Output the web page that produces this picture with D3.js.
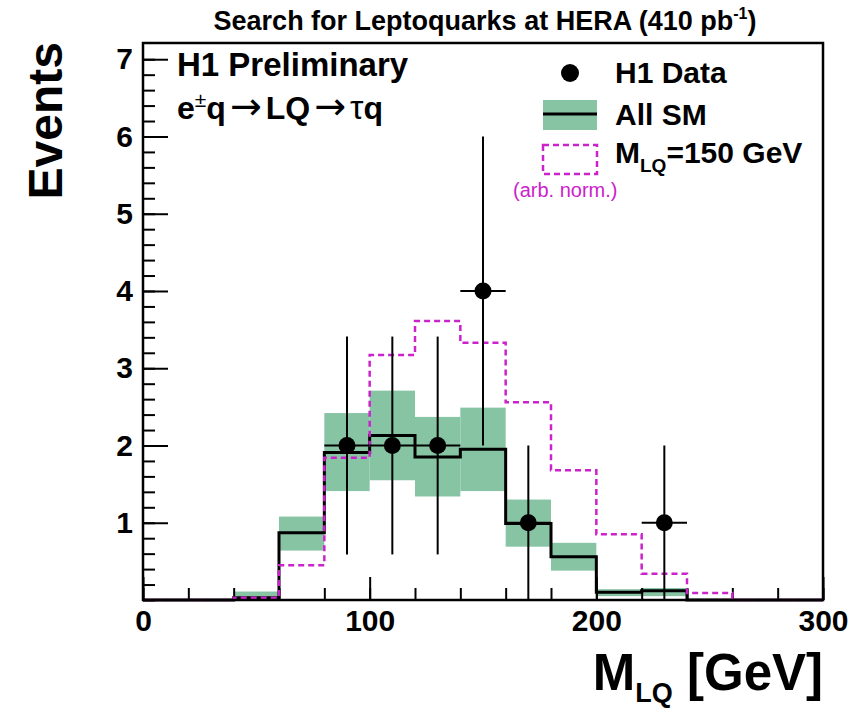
<!DOCTYPE html>
<html>
<head>
<meta charset="utf-8">
<script src="https://cdn.jsdelivr.net/npm/d3@7.9.0/dist/d3.min.js"></script>
<style>
  body { margin: 0; background: #fff; }
  svg text { font-family: "Liberation Sans", Arial, Helvetica, sans-serif; font-weight: bold; fill: #000; }
</style>
</head>
<body>
<svg id="chart" width="865" height="709"></svg>
<script>
// bins of 20 GeV, lower edges
const binLow = [0, 20, 40, 60, 80, 100, 120, 140, 160, 180, 200, 220, 240, 260, 280];
const binWidth = 20;

// all SM expectation and its error band
const smValues = [0, 0, 0.03, 0.87, 1.91, 2.13, 1.85, 1.95, 0.99, 0.56, 0.10, 0.12, 0, 0, 0];
const smUp     = [0, 0, 0.11, 1.08, 2.42, 2.71, 2.37, 2.49, 1.30, 0.74, 0.14, 0.155, 0, 0, 0];
const smDown   = [0, 0, 0.00, 0.64, 1.41, 1.55, 1.34, 1.41, 0.69, 0.38, 0.05, 0.05, 0, 0, 0];

// LQ signal, M = 150 GeV (arb. norm.)
const signal = [0, 0, 0.03, 0.45, 1.84, 3.17, 3.61, 3.33, 2.56, 1.68, 0.85, 0.34, 0.09, 0, 0];

// H1 data
const dataX   = [90, 110, 130, 150, 170, 230];
const dataN   = [2, 2, 2, 4, 1, 1];
const dataErr = [1.41, 1.41, 1.41, 2, 1, 1];

const yMajor = [1, 2, 3, 4, 5, 6, 7];
const xMajor = [0, 100, 200, 300];

const green = "#87c4a4";
const magenta = "#cc22cc";

const svg = d3.select("#chart");
const x = d3.scaleLinear().domain([0, 300]).range([143, 823]);
const y = d3.scaleLinear().domain([0, 7.21]).range([600, 43]);

// SM band
svg.append("g")
  .selectAll("rect")
  .data(binLow.map((b, i) => ({ b, lo: smDown[i], hi: smUp[i] })).filter((d) => d.hi > 0))
  .join("rect")
  .attr("x", (d) => x(d.b))
  .attr("width", (d) => x(d.b + binWidth) - x(d.b))
  .attr("y", (d) => y(d.hi))
  .attr("height", (d) => y(d.lo) - y(d.hi))
  .attr("fill", green);

function stepPoints(values) {
  let pts = binLow.map((b, i) => [b, values[i]]);
  pts.push([binLow[binLow.length - 1] + binWidth, values[values.length - 1]]);
  return pts;
}

const step = d3.line()
  .x((d) => x(d[0]))
  .y((d) => y(d[1]))
  .curve(d3.curveStepAfter);

// axes (ticks point inward)
const yAxisG = svg.append("g").attr("transform", `translate(${x(0)},0)`);
yAxisG.call(d3.axisLeft(y).tickValues(d3.range(0, 7.2, 0.2)).tickSize(-12).tickFormat(""));
yAxisG.call((g) => g.select(".domain").remove());
const yMajorG = svg.append("g").attr("transform", `translate(${x(0)},0)`);
yMajorG.call(d3.axisLeft(y).tickValues(yMajor).tickSize(-25).tickPadding(10).tickFormat(d3.format("d")));
yMajorG.select(".domain").remove();

const xAxisG = svg.append("g").attr("transform", `translate(0,${y(0)})`);
xAxisG.call(d3.axisBottom(x).tickValues(d3.range(0, 301, 20)).tickSize(-12).tickFormat(""));
xAxisG.select(".domain").remove();
const xMajorG = svg.append("g").attr("transform", `translate(0,${y(0)})`);
xMajorG.call(d3.axisBottom(x).tickValues(xMajor).tickSize(-23).tickPadding(10).tickFormat(d3.format("d")));
xMajorG.select(".domain").remove();

svg.selectAll(".tick line").attr("stroke", "#000").attr("stroke-width", 2);
svg.selectAll(".tick text").style("font-size", "30px").style("fill", "#000");

// SM histogram line
svg.append("path")
  .attr("d", step(stepPoints(smValues)))
  .attr("fill", "none")
  .attr("stroke", "#000")
  .attr("stroke-width", 3);

// signal histogram
svg.append("path")
  .attr("d", step(stepPoints(signal)))
  .attr("fill", "none")
  .attr("stroke", magenta)
  .attr("stroke-width", 2.5)
  .attr("stroke-dasharray", "6,4");

// frame
svg.append("rect")
  .attr("x", x(0)).attr("y", y(7.21))
  .attr("width", x(300) - x(0)).attr("height", y(0) - y(7.21))
  .attr("fill", "none").attr("stroke", "#000").attr("stroke-width", 2.5);

// data points with error bars
const pts = svg.append("g")
  .selectAll("g")
  .data(dataX.map((v, i) => ({ m: v, n: dataN[i], e: dataErr[i] })))
  .join("g");
pts.append("line")
  .attr("x1", (d) => x(d.m)).attr("x2", (d) => x(d.m))
  .attr("y1", (d) => y(d.n + d.e)).attr("y2", (d) => y(Math.max(0, d.n - d.e)))
  .attr("stroke", "#000").attr("stroke-width", 2);
pts.append("line")
  .attr("x1", (d) => x(d.m - binWidth / 2)).attr("x2", (d) => x(d.m + binWidth / 2))
  .attr("y1", (d) => y(d.n)).attr("y2", (d) => y(d.n))
  .attr("stroke", "#000").attr("stroke-width", 2);
pts.append("circle")
  .attr("cx", (d) => x(d.m)).attr("cy", (d) => y(d.n))
  .attr("r", 8.5).attr("fill", "#000");

// title
const title = svg.append("text")
  .attr("x", 485).attr("y", 30)
  .attr("text-anchor", "middle")
  .style("font-size", "27px");
title.append("tspan").text("Search for Leptoquarks at HERA (410 pb");
title.append("tspan").text("-1").style("font-size", "16px").attr("dy", -11);
title.append("tspan").text(")").attr("dy", 11);

// H1 labels
svg.append("text").attr("x", 177).attr("y", 76).style("font-size", "33px").text("H1 Preliminary");
const proc = svg.append("text").attr("x", 177).attr("y", 119).style("font-size", "32px");
proc.append("tspan").text("e");
proc.append("tspan").text("±").style("font-size", "21px").style("font-weight", "normal").attr("dy", -12);
proc.append("tspan").text("q").attr("dy", 12);
proc.append("tspan").text("→").attr("dx", 4).style("font-family", "DejaVu Sans").style("font-weight", "normal").style("font-size", "38px");
proc.append("tspan").text("LQ").attr("dx", 4);
proc.append("tspan").text("→").attr("dx", 4).style("font-family", "DejaVu Sans").style("font-weight", "normal").style("font-size", "38px");
proc.append("tspan").text("τ").attr("dx", 4).style("font-weight", "normal").style("font-size", "34px");
proc.append("tspan").text("q");

// legend
svg.append("circle").attr("cx", 570).attr("cy", 73).attr("r", 9).attr("fill", "#000");
svg.append("text").attr("x", 615).attr("y", 83).style("font-size", "30px").text("H1 Data");

svg.append("rect").attr("x", 543).attr("y", 100).attr("width", 54).attr("height", 30).attr("fill", green);
svg.append("line").attr("x1", 543).attr("x2", 597).attr("y1", 114).attr("y2", 114)
  .attr("stroke", "#000").attr("stroke-width", 3);
svg.append("text").attr("x", 615).attr("y", 125).style("font-size", "30px").text("All SM");

svg.append("rect").attr("x", 543).attr("y", 145).attr("width", 54).attr("height", 29)
  .attr("fill", "none").attr("stroke", magenta).attr("stroke-width", 2.5).attr("stroke-dasharray", "6,4");
const mlq = svg.append("text").attr("x", 615).attr("y", 163).style("font-size", "30px");
mlq.append("tspan").text("M");
mlq.append("tspan").text("LQ").style("font-size", "19px").attr("dy", 9);
mlq.append("tspan").text("=150 GeV").attr("dy", -9);
svg.append("text").attr("x", 513).attr("y", 197)
  .style("font-size", "20px").style("font-weight", "normal").style("fill", magenta)
  .text("(arb. norm.)");

// axis titles
svg.append("text")
  .attr("transform", "translate(62,42) rotate(-90)")
  .attr("text-anchor", "end")
  .style("font-size", "48px")
  .text("Events");

const xt = svg.append("text").attr("x", 823).attr("y", 690).attr("text-anchor", "end").style("font-size", "51px");
xt.append("tspan").text("M");
xt.append("tspan").text("LQ").style("font-size", "27px").attr("dy", 12);
xt.append("tspan").text(" [GeV]").attr("dy", -12);
</script>
</body>
</html>
